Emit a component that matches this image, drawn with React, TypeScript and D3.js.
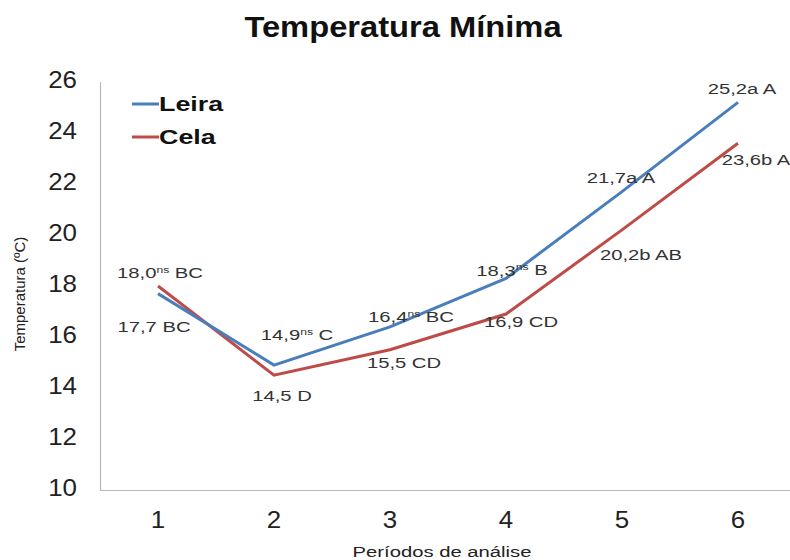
import { useEffect, useRef } from 'react'
import * as d3 from 'd3'

// Periods and mean minimum temperatures (ºC)
const periods = ['1', '2', '3', '4', '5', '6']
const leira = [17.7, 14.9, 16.4, 18.3, 21.7, 25.2]
const cela = [18.0, 14.5, 15.5, 16.9, 20.2, 23.6]

// Point labels: value, superscript, letters
const leiraLabels = [
  ['17,7', '', ' BC'],
  ['14,9', 'ns', ' C'],
  ['16,4', 'ns', ' BC'],
  ['18,3', 'ns', ' B'],
  ['21,7a', '', ' A'],
  ['25,2a', '', ' A'],
]
const celaLabels = [
  ['18,0', 'ns', ' BC'],
  ['14,5', '', ' D'],
  ['15,5', '', ' CD'],
  ['16,9', '', ' CD'],
  ['20,2b', '', ' AB'],
  ['23,6b', '', ' A'],
]
const yTicks = [10, 12, 14, 16, 18, 20, 22, 24, 26]

const BLUE = '#4a7ebb'
const RED = '#be4b48'

// label offsets relative to each point (layout only)
const leiraOffsets = [[-4, 33], [23, -30], [21, -10], [6, -8], [-1, -14], [4, -14]]
const celaOffsets = [[2, -13], [8, 20], [14, 13], [15, 8], [19, 25], [18, 17]]

const FONT = 'Liberation Sans, Arial, sans-serif'

// text placed at (x, y) and stretched horizontally by sx
function addText(parent: any, x: number, y: number, sx: number, size: number, anchor: string) {
  return parent.append('text')
    .attr('transform', `translate(${x},${y}) scale(${sx},1)`)
    .attr('dy', '0.35em')
    .attr('text-anchor', anchor)
    .attr('font-family', FONT)
    .attr('font-size', size)
}

export default function App() {
  const svgRef = useRef<SVGSVGElement>(null)

  useEffect(() => {
    const svg = d3.select(svgRef.current)
    svg.selectAll('*').remove()

    const x = d3.scalePoint<string>().domain(periods).range([100, 796]).padding(0.5)
    const y = d3.scaleLinear().domain([10, 26]).range([490, 82])

    // title
    addText(svg, 403, 26, 1.09, 30, 'middle')
      .attr('font-weight', 'bold').attr('fill', '#111')
      .text('Temperatura Mínima')

    // axis lines
    svg.append('line')
      .attr('x1', 100.5).attr('x2', 100.5).attr('y1', y(26)).attr('y2', y(10))
      .attr('stroke', '#b8b8b8').attr('stroke-width', 1.2)
    svg.append('line')
      .attr('x1', 100).attr('x2', 790).attr('y1', y(10) + 0.5).attr('y2', y(10) + 0.5)
      .attr('stroke', '#b8b8b8').attr('stroke-width', 1.2)

    // y tick labels
    yTicks.forEach(t => {
      addText(svg, 77, y(t) - 2, 1.08, 24, 'end').attr('fill', '#222').text(t)
    })

    // x tick labels
    periods.forEach(p => {
      addText(svg, x(p)!, 520, 1.08, 24, 'middle').attr('fill', '#222').text(p)
    })

    // axis titles
    svg.append('text')
      .attr('transform', 'translate(20,294) rotate(-90)')
      .attr('text-anchor', 'middle').attr('dy', '0.35em')
      .attr('font-family', FONT).attr('font-size', 15).attr('fill', '#222')
      .text('Temperatura (ºC)')
    addText(svg, 442, 552, 1.35, 15, 'middle').attr('fill', '#222')
      .text('Períodos de análise')

    const line = d3.line<number>()
      .x((_, i) => x(periods[i])!)
      .y(d => y(d))

    const series = [
      { values: cela, color: RED, labels: celaLabels, offs: celaOffsets },
      { values: leira, color: BLUE, labels: leiraLabels, offs: leiraOffsets },
    ]

    series.forEach(s => {
      svg.append('path')
        .datum(s.values)
        .attr('d', line)
        .attr('fill', 'none')
        .attr('stroke', s.color)
        .attr('stroke-width', 3)
    })

    // point labels
    series.forEach(s => {
      s.values.forEach((v, i) => {
        const [main, sup, rest] = s.labels[i]
        const t = addText(svg, x(periods[i])! + s.offs[i][0], y(v) + s.offs[i][1], 1.35, 15, 'middle')
          .attr('fill', '#333')
        t.append('tspan').text(main)
        if (sup) {
          t.append('tspan').attr('font-size', 9).attr('dy', '-0.6em').text(sup)
          t.append('tspan').attr('dy', '0.35em').text(rest)
        } else {
          t.append('tspan').text(rest)
        }
      })
    })

    // legend
    const legend = [
      { name: 'Leira', color: BLUE },
      { name: 'Cela', color: RED },
    ]
    legend.forEach((l, i) => {
      const ly = 104 + i * 33
      svg.append('line')
        .attr('x1', 132).attr('x2', 159).attr('y1', ly).attr('y2', ly)
        .attr('stroke', l.color).attr('stroke-width', 3)
      addText(svg, 159, ly, 1.28, 21, 'start')
        .attr('font-weight', 'bold').attr('fill', '#111')
        .text(l.name)
    })
  }, [])

  return (
    <div style={{ position: 'absolute', left: 0, top: 0 }}>
      <svg ref={svgRef} width={790} height={560} style={{ display: 'block', background: '#fff' }} />
    </div>
  )
}
